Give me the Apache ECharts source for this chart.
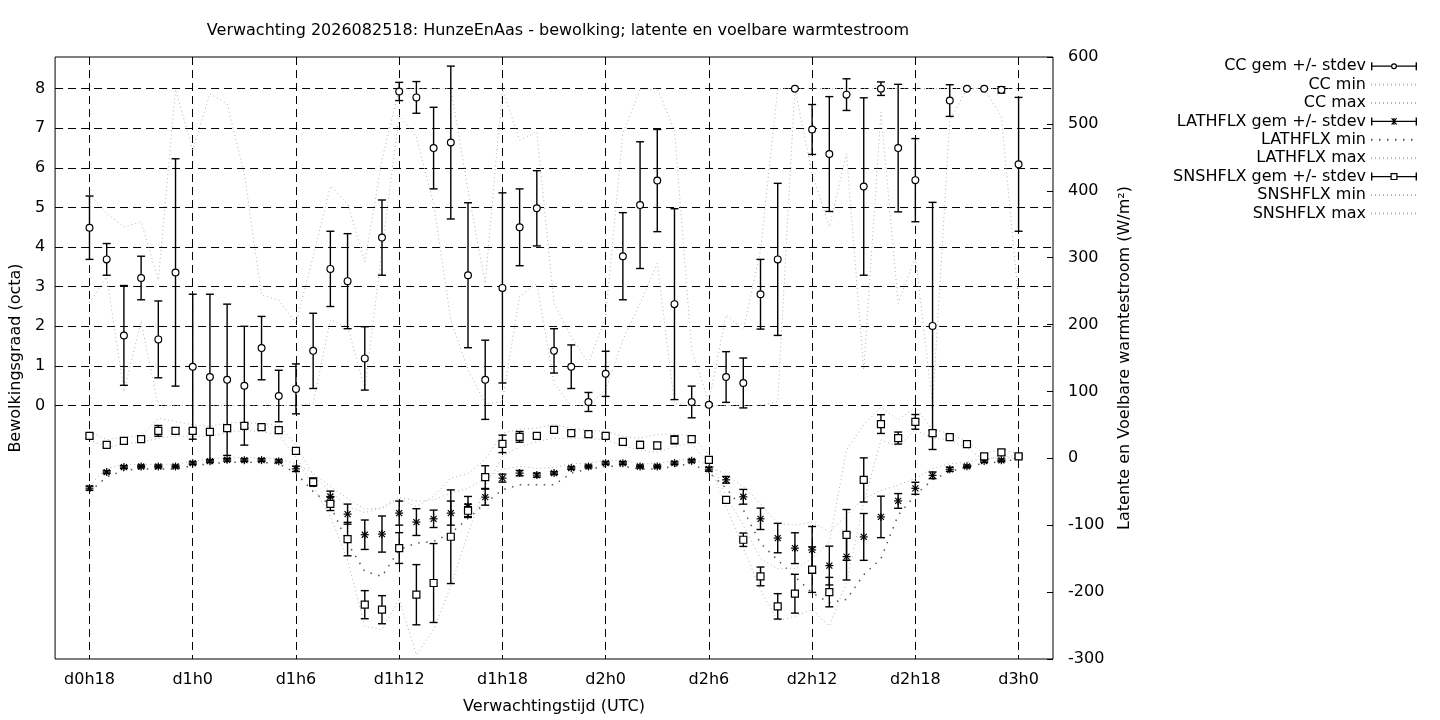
<!DOCTYPE html>
<html>
<head>
<meta charset="utf-8">
<title>Verwachting HunzeEnAas</title>
<script src="https://cdn.jsdelivr.net/npm/echarts@6/dist/echarts.min.js"></script>
<style>
	html, body { margin: 0; padding: 0; background: #fff; }
	#chart { width: 1440px; height: 720px; }
</style>
</head>
<body>
<div id="chart"></div>
<script type="text/javascript">
	// uren sinds d0h0; het x-bereik loopt van d0h16 tot d3h2, de data van d0h18 tot d3h0
	var axisFirstHour = 16;
	var axisLastHour = 74;
	var dataFirstHour = 18;

	var tickHours = [18, 24, 30, 36, 42, 48, 54, 60, 66, 72];
	var tickLabels = ['d0h18', 'd1h0', 'd1h6', 'd1h12', 'd1h18', 'd2h0', 'd2h6', 'd2h12', 'd2h18', 'd3h0'];
	var ccLevels = [0, 1, 2, 3, 4, 5, 6, 7, 8];

	// bewolking (octa), elk uur van d0h18 t/m d3h0
	var ccMean = [
		4.49, 3.69, 1.77, 3.22, 1.67, 3.36,
		0.98, 0.72, 0.65, 0.50, 1.45, 0.24,
		0.42, 1.38, 3.45, 3.14, 1.19, 4.24,
		7.93, 7.78, 6.50, 6.64, 3.29, 0.65,
		2.97, 4.50, 4.98, 1.38, 0.98, 0.09,
		0.80, 3.77, 5.06, 5.68, 2.56, 0.09,
		0.02, 0.72, 0.57, 2.81, 3.69, 8.00,
		6.97, 6.35, 7.85, 5.53, 8.00, 6.50,
		5.69, 2.01, 7.70, 8.00, 8.00, 7.97,
		6.09
	];
	var ccSd = [
		0.80, 0.40, 1.26, 0.55, 0.97, 2.87,
		1.83, 2.09, 1.91, 1.50, 0.80, 0.65,
		0.63, 0.95, 0.95, 1.20, 0.80, 0.95,
		0.23, 0.40, 1.03, 1.93, 1.83, 1.00,
		2.40, 0.97, 0.95, 0.56, 0.55, 0.24,
		0.57, 1.10, 1.60, 1.29, 2.41, 0.40,
		0.03, 0.64, 0.63, 0.88, 1.92, 0.00,
		0.63, 1.45, 0.40, 2.24, 0.17, 1.61,
		1.05, 3.12, 0.40, 0.00, 0.00, 0.08,
		1.69
	];
	var ccMin = [
		2.60, 3.25, 0.35, 2.12, 0.00, 0.00,
		0.00, 0.00, 0.00, 0.00, 0.00, 0.00,
		0.00, 0.05, 2.16, 1.99, 0.42, 3.92,
		7.33, 6.78, 5.10, 2.16, 0.90, 0.05,
		0.10, 2.75, 3.08, 0.56, 0.00, 0.00,
		0.40, 1.66, 2.58, 3.59, 0.05, 0.00,
		0.00, 0.00, 0.00, 0.00, 0.10, 8.00,
		5.86, 4.51, 6.36, 0.90, 7.41, 2.58,
		3.76, 0.00, 7.20, 8.00, 8.00, 7.30,
		2.66
	];
	var ccMax = [
		5.35, 4.85, 4.51, 4.64, 3.17, 7.98,
		6.45, 7.87, 7.62, 5.86, 2.79, 2.66,
		2.08, 3.76, 5.54, 5.10, 3.62, 6.20,
		8.00, 8.00, 8.00, 8.00, 5.44, 3.08,
		8.00, 6.70, 6.91, 2.58, 1.74, 1.07,
		2.24, 6.87, 7.98, 8.00, 6.95, 1.40,
		0.10, 2.29, 1.91, 3.92, 8.00, 8.00,
		8.00, 8.00, 8.00, 8.00, 8.00, 8.00,
		8.00, 8.00, 8.00, 8.00, 8.00, 8.00,
		8.00
	];

	// latente warmtestroom (W/m2)
	var lhMean = [
		-44.6, -20.6, -13.1, -12.2, -12.2, -12.2,
		-7.2, -4.2, -2.2, -2.7, -2.7, -4.2,
		-15.7, -34.6, -57.0, -83.4, -114.2, -113.2,
		-81.9, -95.3, -90.4, -81.9, -72.0, -58.0,
		-29.6, -22.1, -25.1, -22.1, -14.6, -12.2,
		-7.2, -7.2, -12.2, -12.2, -7.2, -3.7,
		-16.2, -32.1, -57.5, -90.4, -119.2, -134.3,
		-136.9, -160.3, -146.9, -117.5, -87.6, -63.7,
		-44.8, -25.4, -16.4, -12.0, -4.0, -3.0,
		2.4
	];
	var lhSd = [
		3, 2, 2, 2, 2, 2,
		2, 2, 2, 2, 2, 2,
		4, 5, 8, 15, 22, 27,
		18, 20, 13, 18, 15, 12,
		6, 4, 3, 2, 2, 2,
		2, 2, 2, 2, 2, 2,
		3, 5, 11, 16, 22, 23,
		35, 29, 35, 35, 31, 11,
		9, 5, 3, 2, 2, 2,
		2
	];
	var lhMin = [
		-50, -28, -18, -16, -16, -16,
		-11, -8, -6, -6, -6, -8,
		-22, -49.6, -70, -126.7, -169, -176.5,
		-136.6, -126.7, -124.2, -112, -90, -67,
		-47, -39.6, -39.6, -39.6, -22, -16,
		-12, -12, -16, -16, -12, -8,
		-21, -44.5, -77, -127, -152, -177,
		-201, -216, -211, -174, -150, -85,
		-54.8, -32, -20, -12.5, -7.5, -5,
		-1
	];
	var lhMax = [
		-40, -15, -9, -9, -9, -9,
		-4, -1, 1, 1, 1, -1,
		-8, -22, -42, -60, -76, -74,
		-58, -64, -62, -52, -45, -30,
		-16, -12, -15, -14, -8, -7,
		-3, -3, -8, -8, -3, -1,
		-10, -25, -42, -68, -97, -100,
		-95, -110, -85, -60, -48, -40,
		-30, -15, -8, -6, 0, 1,
		5
	];

	// voelbare warmtestroom (W/m2)
	var shMean = [
		33.6, 20.2, 26.1, 28.7, 41.1, 41.1,
		41.1, 39.6, 45.1, 48.5, 46.6, 42.1,
		11.2, -35.6, -68.0, -120.7, -218.8, -226.3,
		-134.1, -203.9, -186.4, -117.2, -78.4, -28.1,
		21.6, 32.1, 33.6, 42.6, 37.6, 36.1,
		33.6, 24.6, 20.2, 19.2, 27.6, 28.7,
		-2.2, -62.0, -121.7, -176.5, -221.3, -202.4,
		-166.4, -200.0, -114.5, -32.3, 51.2, 30.3,
		54.5, 37.8, 31.8, 21.3, 3.0, 9.0,
		3.0
	];
	var shSd = [
		3, 3, 3, 3, 8, 4,
		3, 3, 3, 3, 3, 3,
		4, 6, 10, 25, 21, 21,
		23, 45, 59, 70, 10, 17,
		13, 8, 3, 3, 3, 3,
		3, 3, 5, 5, 6, 4,
		3, 4, 10, 14, 19, 29,
		34, 22, 38, 33, 14, 9,
		11, 4, 3, 3, 3, 4,
		3
	];
	var shMin = [
		28, 16, 22, 24, 30, 33,
		33, 33, 38, 42, 40, 35,
		2, -42, -87, -151.6, -251, -256,
		-211, -293.5, -256, -191, -112, -42,
		2.7, 17.6, 25.1, 30, 30, 30,
		28, 18, 12.7, 8.7, 18, 22,
		-8, -72, -134, -196, -243, -236,
		-226, -251, -185, -67, 27.6, 17.6,
		42.6, 30, 28, 15, -2, 3,
		-2
	];
	var shMax = [
		40, 28, 32, 34, 60, 55,
		50, 48, 53, 53.5, 52, 50,
		20, -25, -50, -72, -81, -74.4,
		-61, -72, -57, -29.6, -23.1, -1.2,
		37.6, 43.6, 45.1, 51, 45, 42,
		40, 33, 30, 36, 36, 34,
		5, -57, -100, -150, -165, -165,
		-150, -125, 12.7, 50, 76.5, 57.5,
		76.5, 42.6, 37.6, 25.1, 7.7, 12.7,
		7
	];

	var FONT = 'DejaVu Sans';
	var FSIZE = 16;
	var LIGHT = '#b3b3b3';

	var categories = [];
	for (var h = axisFirstHour; h <= axisLastHour; h++) categories.push(String(h));

	function isTick(index) {
		return tickHours.indexOf(index + axisFirstHour) >= 0;
	}

	function offset(i) {
		return i + dataFirstHour - axisFirstHour;
	}

	function linePoints(values) {
		return values.map(function (v, i) { return [offset(i), v]; });
	}

	function barPoints(mean, sd) {
		return mean.map(function (m, i) { return [offset(i), m, sd[i]]; });
	}

	// linkerschaal: tick elke 0.2, alleen de hele octa's 0..8 krijgen label en rasterlijn
	var ccMinAxis = -6.4, ccMaxAxis = 8.8, ccStep = 0.2;
	var ccGridColors = [];
	for (var k = 0; k <= Math.round((ccMaxAxis - ccMinAxis) / ccStep); k++) {
		var tv = Math.round((ccMinAxis + k * ccStep) * 10) / 10;
		ccGridColors.push(ccLevels.indexOf(tv) >= 0 ? '#000' : 'rgba(0,0,0,0)');
	}

	var pen = { stroke: '#000', lineWidth: 1.4 };

	function circleMark(x, y) {
		return { type: 'circle', shape: { cx: x, cy: y, r: 3.4 }, style: { fill: '#fff', stroke: '#000', lineWidth: 1.2 } };
	}
	function squareMark(x, y) {
		return { type: 'rect', shape: { x: x - 3.5, y: y - 3.5, width: 7, height: 7 }, style: { fill: '#fff', stroke: '#000', lineWidth: 1.2 } };
	}
	function starMark(x, y) {
		return {
			type: 'group',
			children: [
				{ type: 'line', shape: { x1: x - 4, y1: y, x2: x + 4, y2: y }, style: { stroke: '#000', lineWidth: 1.2 } },
				{ type: 'line', shape: { x1: x, y1: y - 4, x2: x, y2: y + 4 }, style: { stroke: '#000', lineWidth: 1.2 } },
				{ type: 'line', shape: { x1: x - 3, y1: y - 3, x2: x + 3, y2: y + 3 }, style: { stroke: '#000', lineWidth: 1.2 } },
				{ type: 'line', shape: { x1: x - 3, y1: y + 3, x2: x + 3, y2: y - 3 }, style: { stroke: '#000', lineWidth: 1.2 } }
			]
		};
	}

	function errorBars(mark) {
		return function (params, api) {
			var x = api.value(0), m = api.value(1), s = api.value(2);
			var c = api.coord([x, m]);
			var top = api.coord([x, m + s])[1];
			var bot = api.coord([x, m - s])[1];
			var kids = [];
			if (bot - top > 0.5) {
				kids.push({ type: 'line', shape: { x1: c[0], y1: top, x2: c[0], y2: bot }, style: pen });
				kids.push({ type: 'line', shape: { x1: c[0] - 4, y1: top, x2: c[0] + 4, y2: top }, style: pen });
				kids.push({ type: 'line', shape: { x1: c[0] - 4, y1: bot, x2: c[0] + 4, y2: bot }, style: pen });
			}
			kids.push(mark(c[0], c[1]));
			return { type: 'group', children: kids };
		};
	}

	function barSeries(name, axis, mean, sd, mark) {
		return {
			name: name,
			type: 'custom',
			yAxisIndex: axis,
			z: 5,
			itemStyle: { color: '#000' },
			encode: { x: 0, y: 1 },
			renderItem: errorBars(mark),
			data: barPoints(mean, sd)
		};
	}

	function dotSeries(name, axis, values, color, dash, width) {
		return {
			name: name,
			type: 'line',
			yAxisIndex: axis,
			z: 2,
			symbol: 'none',
			silent: true,
			itemStyle: { color: color },
			lineStyle: { color: color, type: dash, width: width },
			data: linePoints(values)
		};
	}

	function lineEntry(name) {
		// alleen de stippellijn in de legenda, geen symbool
		return { name: name, itemStyle: { opacity: 0 } };
	}

	var iconBase = 'M0,0h1.4v8h-1.4z M44.6,0h1.4v8h-1.4z ';
	var iconCircle = 'path://' + iconBase + 'M1.4,3.4h18.6v1.2h-18.6z M26,3.4h18.6v1.2h-18.6z ' +
		'M20,4a3,3 0 1 0 6,0a3,3 0 1 0 -6,0z M21.2,4a1.8,1.8 0 1 1 3.6,0a1.8,1.8 0 1 1 -3.6,0z';
	var iconSquare = 'path://' + iconBase + 'M1.4,3.4h18.1v1.2h-18.1z M26.5,3.4h18.1v1.2h-18.1z ' +
		'M19.5,0.5h7v7h-7z M20.7,1.7v4.6h4.6v-4.6z';
	var iconStar = 'path://' + iconBase + 'M1.4,3.4h43.2v1.2h-43.2z M22.4,0.6h1.2v6.8h-1.2z ' +
		'M20.2,1.2l0.8,-0.8l5,6.4l-0.8,0.8z M25.2,0.4l0.8,0.8l-5,6.4l-0.8,-0.8z';

	var myChart = echarts.init(document.getElementById('chart'));

	myChart.setOption({
		animation: false,
		backgroundColor: '#fff',
		textStyle: { fontFamily: FONT, color: '#000' },
		title: {
			text: 'Verwachting 2026082518: HunzeEnAas - bewolking; latente en voelbare warmtestroom',
			left: 553,
			top: 18,
			textAlign: 'center',
			textStyle: { fontFamily: FONT, fontSize: FSIZE, fontWeight: 'normal', color: '#000' }
		},
		legend: {
			orient: 'vertical',
			right: 17,
			top: 52,
			align: 'right',
			itemWidth: 46,
			itemHeight: 8,
			itemGap: 0,
			selectedMode: false,
			textStyle: { fontFamily: FONT, fontSize: FSIZE, color: '#000', lineHeight: 18.4 },
			data: [
				{ name: 'CC gem +/- stdev', icon: iconCircle },
				lineEntry('CC min'), lineEntry('CC max'),
				{ name: 'LATHFLX gem +/- stdev', icon: iconStar },
				lineEntry('LATHFLX min'), lineEntry('LATHFLX max'),
				{ name: 'SNSHFLX gem +/- stdev', icon: iconSquare },
				lineEntry('SNSHFLX min'), lineEntry('SNSHFLX max')
			]
		},
		grid: {
			left: 54,
			right: 387,
			top: 57,
			bottom: 60,
			show: true,
			borderColor: '#000',
			borderWidth: 1,
			backgroundColor: 'rgba(0,0,0,0)'
		},
		xAxis: {
			type: 'category',
			data: categories,
			boundaryGap: false,
			name: 'Verwachtingstijd (UTC)',
			nameLocation: 'middle',
			nameGap: 40,
			nameTextStyle: { fontFamily: FONT, fontSize: FSIZE, color: '#000' },
			axisLine: { show: false },
			axisTick: { show: true, inside: true, length: 6, interval: isTick, lineStyle: { color: '#000' } },
			axisLabel: {
				interval: isTick,
				margin: 13,
				fontFamily: FONT,
				fontSize: FSIZE,
				color: '#000',
				formatter: function (v) { return tickLabels[tickHours.indexOf(+v)]; }
			},
			splitLine: { show: true, interval: isTick, lineStyle: { color: '#000', width: 1, type: [8, 5] } }
		},
		yAxis: [{
			type: 'value',
			min: ccMinAxis,
			max: ccMaxAxis,
			interval: ccStep,
			name: 'Bewolkingsgraad (octa)',
			nameLocation: 'middle',
			nameRotate: 90,
			nameGap: 25,
			nameTextStyle: { fontFamily: FONT, fontSize: FSIZE, color: '#000' },
			axisLine: { show: false },
			axisTick: { show: false },
			axisLabel: {
				margin: 10,
				fontFamily: FONT,
				fontSize: FSIZE,
				color: '#000',
				formatter: function (v) {
					var r = Math.round(v * 10) / 10;
					return ccLevels.indexOf(r) >= 0 ? String(r) : '';
				}
			},
			splitLine: { show: true, lineStyle: { color: ccGridColors, width: 1, type: [8, 5] } }
		}, {
			type: 'value',
			position: 'right',
			min: -300,
			max: 600,
			interval: 100,
			name: 'Latente en Voelbare warmtestroom (W/m²)',
			nameLocation: 'middle',
			nameRotate: 90,
			nameGap: 64,
			nameTextStyle: { fontFamily: FONT, fontSize: FSIZE, color: '#000' },
			axisLine: { show: false },
			axisTick: { show: true, inside: true, length: 6, lineStyle: { color: '#000' } },
			axisLabel: { margin: 15, fontFamily: FONT, fontSize: FSIZE, color: '#000' },
			splitLine: { show: false }
		}],
		series: [
			barSeries('CC gem +/- stdev', 0, ccMean, ccSd, circleMark),
			dotSeries('CC min', 0, ccMin, LIGHT, [1, 3], 1),
			dotSeries('CC max', 0, ccMax, LIGHT, [1, 3], 1),
			barSeries('LATHFLX gem +/- stdev', 1, lhMean, lhSd, starMark),
			dotSeries('LATHFLX min', 1, lhMin, '#555', [1.5, 6.5], 1.5),
			dotSeries('LATHFLX max', 1, lhMax, LIGHT, [1, 3], 1),
			barSeries('SNSHFLX gem +/- stdev', 1, shMean, shSd, squareMark),
			dotSeries('SNSHFLX min', 1, shMin, LIGHT, [1, 3], 1),
			dotSeries('SNSHFLX max', 1, shMax, LIGHT, [1, 3], 1)
		]
	});
</script>
</body>
</html>
